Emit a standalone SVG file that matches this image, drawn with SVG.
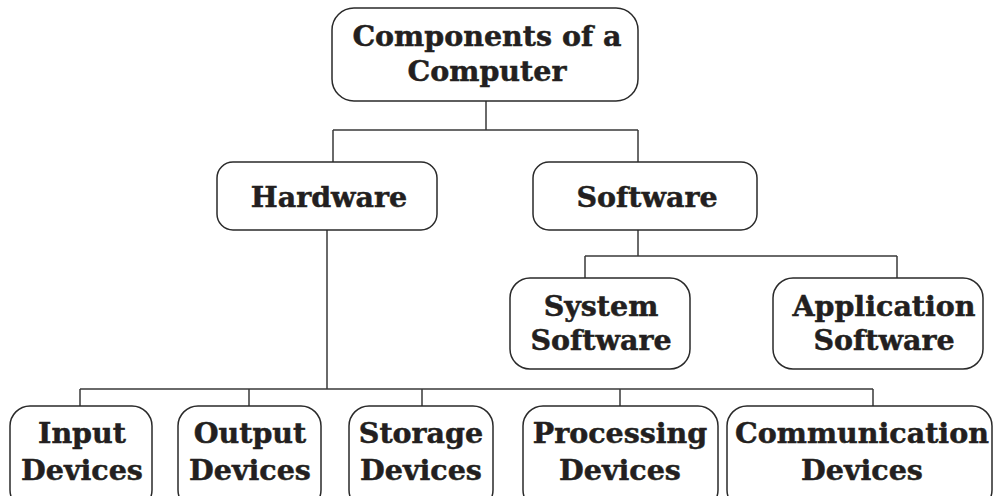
<svg xmlns="http://www.w3.org/2000/svg" width="997" height="496" viewBox="0 0 997 496">
  <style>
    .box { fill: #fff; stroke: #2a2a2a; stroke-width: 1.5; }
    .lbl { font-family: "DejaVu Serif", "Liberation Serif", serif; font-weight: bold; font-size: 28.5px; fill: #231f20; stroke: #231f20; stroke-width: 0.5; text-anchor: middle; }
    .wire { fill: none; stroke: #3a3a3a; stroke-width: 1.5; }
  </style>
  <rect width="997" height="496" fill="#fff"/>

  <!-- tree connectors -->
  <g id="connectors">
    <path class="wire" d="M486 101 V130 M333 130 H638 M333 130 V162 M638 130 V162"/>
    <path class="wire" d="M638 230 V256 M585 256 H897 M585 256 V278 M897 256 V278"/>
    <path class="wire" d="M327 230 V389 M80 389 H873 M80 389 V406 M249 389 V406 M422 389 V406 M620 389 V406 M873 389 V406"/>
  </g>

  <g id="components">
    <rect class="box" x="332" y="8" width="306" height="93" rx="22"/>
    <text class="lbl" x="487" y="46" font-size="29">Components of a</text>
    <text class="lbl" x="487" y="81" font-size="29">Computer</text>
  </g>

  <g id="hardware">
    <rect class="box" x="217" y="162" width="220" height="68" rx="16"/>
    <text class="lbl" x="329" y="207">Hardware</text>
  </g>

  <g id="software">
    <rect class="box" x="533" y="162" width="224" height="68" rx="16"/>
    <text class="lbl" x="647" y="207">Software</text>
  </g>

  <g id="system-software">
    <rect class="box" x="510" y="278" width="180" height="91" rx="20"/>
    <text class="lbl" x="601" y="316">System</text>
    <text class="lbl" x="601" y="350">Software</text>
  </g>

  <g id="application-software">
    <rect class="box" x="773" y="278" width="210" height="91" rx="20"/>
    <text class="lbl" x="884" y="316">Application</text>
    <text class="lbl" x="884" y="350">Software</text>
  </g>

  <g id="input-devices">
    <rect class="box" x="10" y="406" width="142" height="104" rx="20"/>
    <text class="lbl" x="82" y="443">Input</text>
    <text class="lbl" x="82" y="480">Devices</text>
  </g>

  <g id="output-devices">
    <rect class="box" x="178" y="406" width="143" height="104" rx="20"/>
    <text class="lbl" x="250" y="443">Output</text>
    <text class="lbl" x="250" y="480">Devices</text>
  </g>

  <g id="storage-devices">
    <rect class="box" x="349" y="406" width="144" height="104" rx="20"/>
    <text class="lbl" x="421" y="443">Storage</text>
    <text class="lbl" x="421" y="480">Devices</text>
  </g>

  <g id="processing-devices">
    <rect class="box" x="523" y="406" width="195" height="104" rx="20"/>
    <text class="lbl" x="620" y="443">Processing</text>
    <text class="lbl" x="620" y="480">Devices</text>
  </g>

  <g id="communication-devices">
    <rect class="box" x="727" y="406" width="265" height="104" rx="20"/>
    <text class="lbl" x="862" y="443">Communication</text>
    <text class="lbl" x="862" y="480">Devices</text>
  </g>
</svg>
